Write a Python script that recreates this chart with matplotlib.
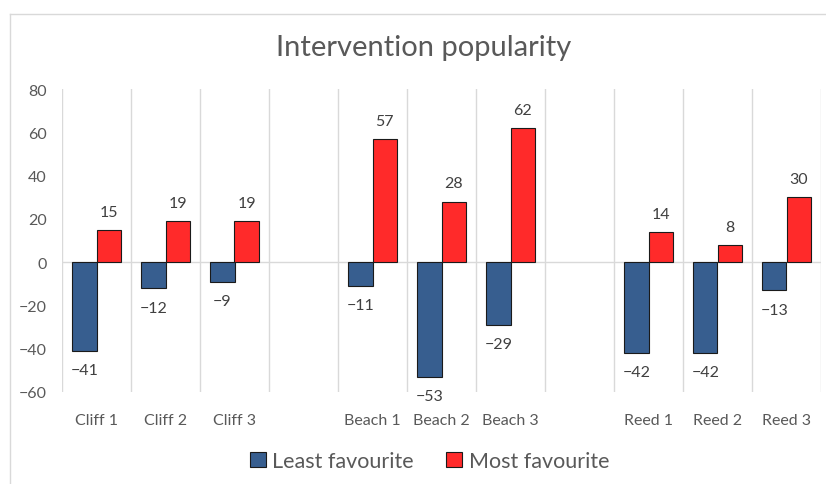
import numpy as np
import matplotlib
matplotlib.use("Agg")
import matplotlib.pyplot as plt
from matplotlib.lines import Line2D
from matplotlib.patches import Patch

plt.rcParams['font.family'] = ['Lato', 'DejaVu Sans']

# data (blank strings are the spacer slots between groups)
categories = ["Cliff 1", "Cliff 2", "Cliff 3", "",
              "Beach 1", "Beach 2", "Beach 3", "",
              "Reed 1", "Reed 2", "Reed 3"]
least_fav = [-41, -12, -9, None, -11, -53, -29, None, -42, -42, -13]
most_fav = [15, 19, 19, None, 57, 28, 62, None, 14, 8, 30]
series_names = ["Least favourite", "Most favourite"]
y_ticks = [-60, -40, -20, 0, 20, 40, 60, 80]

BLUE = '#375E8F'
RED = '#FF2A2A'
TXT = '#595959'
GRID = '#D9D9D9'

fig = plt.figure(figsize=(8.26, 4.85), dpi=100)
ax = fig.add_axes([62/826, 1 - 393/485, (821 - 62)/826, (393 - 90)/485])

x = np.arange(len(categories))
w = 0.35
for i, (lv, mv) in enumerate(zip(least_fav, most_fav)):
    if lv is None:
        continue
    ax.bar(x[i] - w/2, lv, w, color=BLUE, edgecolor='#1a1a1a', linewidth=0.8, zorder=3)
    ax.bar(x[i] + w/2, mv, w, color=RED, edgecolor='#1a1a1a', linewidth=0.8, zorder=3)
    ax.annotate(f"\u2212{abs(lv)}", (x[i] - w/2, lv), xytext=(0, -14),
                textcoords='offset points', ha='center', va='center',
                fontsize=11.5, color='#404040')
    ax.annotate(f"{mv}", (x[i] + w/2, mv), xytext=(0, 13),
                textcoords='offset points', ha='center', va='center',
                fontsize=11.5, color='#404040')

ax.set_xlim(-0.5, len(categories) - 0.5)
ax.set_ylim(-60, 80)
ax.set_yticks(y_ticks)
ax.set_xticks(x)
ax.set_xticklabels(categories)
ax.set_xticks(np.arange(-0.5, len(categories)), minor=True)
ax.grid(True, which='minor', axis='x', color=GRID, linewidth=1, zorder=0)
ax.axhline(0, color=GRID, linewidth=1, zorder=1)
ax.tick_params(axis='both', which='both', length=0, colors=TXT, labelsize=11.5)
ax.tick_params(axis='y', pad=11)
ax.tick_params(axis='x', pad=15)
for s in ax.spines.values():
    s.set_visible(False)

fig.text(0.513, 1 - 48/485, "Intervention popularity", ha='center', va='center',
         fontsize=21, color=TXT)

handles = [Patch(facecolor=BLUE, edgecolor='#1a1a1a', linewidth=0.8),
           Patch(facecolor=RED, edgecolor='#1a1a1a', linewidth=0.8)]
fig.legend(handles, series_names, loc='center', bbox_to_anchor=(0.52, 1 - 462/485),
           ncol=2, frameon=False, fontsize=15.5, labelcolor=TXT,
           handlelength=0.75, handleheight=0.75, handletextpad=0.3, columnspacing=1.5)

# chart border remnants (top and left)
fig.add_artist(Line2D([10/826, 1], [1 - 15/485] * 2, color=GRID, linewidth=1))
fig.add_artist(Line2D([10/826] * 2, [0, 1 - 15/485], color=GRID, linewidth=1))

fig.savefig("out.png", dpi=100)
